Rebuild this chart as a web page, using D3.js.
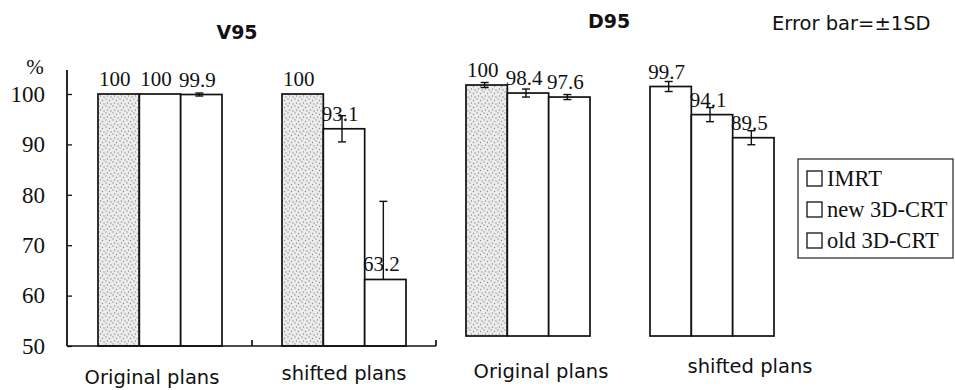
<!DOCTYPE html>
<html>
<head>
<meta charset="utf-8">
<script src="https://cdn.jsdelivr.net/npm/d3@7"></script>
<style>
  html, body { margin: 0; padding: 0; background: #fff; }
  svg { display: block; }
</style>
</head>
<body>
<svg id="chart"></svg>
<script>
/* V95 / D95 for original and shifted plans, three techniques, error bar = ±1SD */
const panels = ["V95", "D95"];
const groups = ["Original plans", "shifted plans"];
const series = ["IMRT", "new 3D-CRT", "old 3D-CRT"];

// means per group (rows) and series (cols)
const v95Means = [[100, 100, 99.9], [100, 93.1, 63.2]];
const v95SD    = [[0, 0, 0.3], [0, 2.6, 15.5]];
const d95Means = [[100, 98.4, 97.6], [99.7, 94.1, 89.5]];
const d95SD    = [[0.5, 0.8, 0.5], [1.0, 1.4, 1.4]];

const yTicks = [50, 60, 70, 80, 90, 100];

(function () {
    const W = 955, H = 390;
    const SERIF = "Liberation Serif, Times New Roman, serif";
    const SANS = "DejaVu Sans, Verdana, sans-serif";
    const svg = d3.select("#chart").attr("width", W).attr("height", H);

    const means = { V95: v95Means, D95: d95Means };
    const sds = { V95: v95SD, D95: d95SD };

    // stipple for the grey bars
    const pat = svg.append("defs").append("pattern").attr("id", "stipple")
        .attr("patternUnits", "userSpaceOnUse").attr("width", 7).attr("height", 7);
    pat.append("rect").attr("width", 7).attr("height", 7).attr("fill", "#ececec");
    [[1, 1], [4.5, 2.5], [2.5, 5], [6, 6]].forEach(([cx, cy]) =>
        pat.append("circle").attr("cx", cx).attr("cy", cy).attr("r", 0.7).attr("fill", "#8a8a8a"));

    // one band per panel/group pair, laid out left to right
    const keys = panels.flatMap(p => groups.map(g => p + "|" + g));
    const outer = d3.scaleBand().domain(keys).range([68, 804])
        .paddingInner(0.326).paddingOuter(0.163);
    const inner = d3.scaleBand().domain(series).range([0, outer.bandwidth()]);

    // the D95 panel sits a little higher on the page
    const yScale = {
        V95: d3.scaleLinear().domain([50, 100]).range([346, 94]),
        D95: d3.scaleLinear().domain([50, 100]).range([336, 85])
    };

    // stippled grey bars (IMRT, except D95 shifted which is white)
    const isGrey = (p, gi, si) => si === 0 && !(p === "D95" && gi === 1);

    const rows = [];
    panels.forEach(p => groups.forEach((g, gi) => series.forEach((s, si) => {
        rows.push({ p, g, gi, s, si, v: means[p][gi][si], sd: sds[p][gi][si] });
    })));

    const bx = d => outer(d.p + "|" + d.g) + inner(d.s);
    const bw = inner.bandwidth();

    // bars
    svg.append("g").selectAll("rect").data(rows).join("rect")
        .attr("x", bx)
        .attr("y", d => yScale[d.p](d.v))
        .attr("width", bw)
        .attr("height", d => yScale[d.p](50) - yScale[d.p](d.v))
        .attr("fill", d => isGrey(d.p, d.gi, d.si) ? "url(#stipple)" : "#fff")
        .attr("stroke", "#111")
        .attr("stroke-width", 1.7);

    // error bars
    const eg = svg.append("g").attr("stroke", "#111").attr("stroke-width", 1.4);
    rows.filter(d => d.sd > 0).forEach(d => {
        const y = yScale[d.p];
        const cx = bx(d) + bw / 2 - 2;
        const hi = y(d.v + d.sd);
        const lo = d.v - d.sd < 50 ? y(d.v) : y(d.v - d.sd);
        eg.append("line").attr("x1", cx).attr("x2", cx).attr("y1", hi).attr("y2", lo);
        eg.append("line").attr("x1", cx - 4).attr("x2", cx + 4).attr("y1", hi).attr("y2", hi);
        if (d.v - d.sd >= 50)
            eg.append("line").attr("x1", cx - 4).attr("x2", cx + 4).attr("y1", lo).attr("y2", lo);
    });

    // value labels
    svg.append("g").attr("font-family", SERIF).attr("font-size", 21)
        .selectAll("text").data(rows).join("text")
        .attr("x", d => bx(d) + bw / 2 - 4)
        .attr("y", d => yScale[d.p](d.v) - 8)
        .attr("text-anchor", "middle")
        .attr("fill", "#111")
        .text(d => d.v);

    // V95 y axis
    const yV = yScale.V95;
    const axisX = outer.range()[0] - 1;
    const gy = svg.append("g").attr("transform", `translate(${axisX},0)`)
        .call(d3.axisLeft(yV).tickValues(yTicks).tickSizeInner(-5).tickSizeOuter(0).tickPadding(22));
    gy.attr("font-family", SERIF).attr("font-size", 23);
    gy.select(".domain").remove();
    gy.selectAll(".tick line").attr("stroke", "#111").attr("stroke-width", 1.3);
    gy.selectAll(".tick text").attr("fill", "#111");
    gy.append("line").attr("x1", 0).attr("x2", 0)
        .attr("y1", yV.range()[1] - 24).attr("y2", yV.range()[0])
        .attr("stroke", "#111").attr("stroke-width", 1.8);
    gy.append("text").attr("x", -32).attr("y", yV.range()[1] - 20)
        .attr("text-anchor", "middle").attr("font-size", 21).attr("fill", "#111")
        .text("%");

    // V95 baseline with ticks at group boundaries
    const step = outer.step();
    const x0 = outer.range()[0];
    const base = svg.append("g").attr("stroke", "#111").attr("stroke-width", 1.7);
    base.append("line").attr("x1", axisX).attr("x2", x0 + 2 * step)
        .attr("y1", yV(50)).attr("y2", yV(50));
    [1, 2].forEach(k => base.append("line")
        .attr("x1", x0 + k * step).attr("x2", x0 + k * step)
        .attr("y1", yV(50)).attr("y2", yV(50) - 6));

    // category labels under each group
    const catNudge = [{ dx: -8, y: 384 }, { dx: 0, y: 380 }, { dx: 13, y: 378 }, { dx: 38, y: 373 }];
    svg.append("g").attr("font-family", SANS).attr("font-size", 19.5)
        .selectAll("text").data(keys).join("text")
        .attr("x", (k, i) => outer(k) + outer.bandwidth() / 2 + catNudge[i].dx)
        .attr("y", (k, i) => catNudge[i].y)
        .attr("text-anchor", "middle")
        .attr("fill", "#111")
        .text(k => k.split("|")[1]);

    // panel titles
    const titleNudge = [{ dx: -15, y: 39 }, { dx: -11, y: 28 }];
    panels.forEach((p, i) => {
        const a = outer(p + "|" + groups[0]), b = outer(p + "|" + groups[1]) + outer.bandwidth();
        svg.append("text")
            .attr("x", (a + b) / 2 + titleNudge[i].dx).attr("y", titleNudge[i].y)
            .attr("text-anchor", "middle")
            .attr("font-family", SANS).attr("font-weight", "bold").attr("font-size", 19)
            .attr("fill", "#111").text(p);
    });

    svg.append("text").attr("x", 772).attr("y", 30)
        .attr("font-family", SANS).attr("font-size", 19.5).attr("fill", "#111")
        .text("Error bar=±1SD");

    // legend
    const lg = svg.append("g").attr("transform", "translate(798,159)")
        .attr("font-family", SERIF).attr("font-size", 22.5);
    lg.append("rect").attr("width", 155).attr("height", 99)
        .attr("fill", "#fff").attr("stroke", "#333").attr("stroke-width", 1.3);
    series.forEach((s, i) => {
        const row = lg.append("g").attr("transform", `translate(9,${20 + i * 31})`);
        row.append("rect").attr("x", 0).attr("y", -8).attr("width", 15).attr("height", 15)
            .attr("fill", "#fff").attr("stroke", "#111").attr("stroke-width", 1.3);
        row.append("text").attr("x", 20).attr("y", 7).attr("fill", "#111").text(s);
    });
})();
</script>
</body>
</html>
